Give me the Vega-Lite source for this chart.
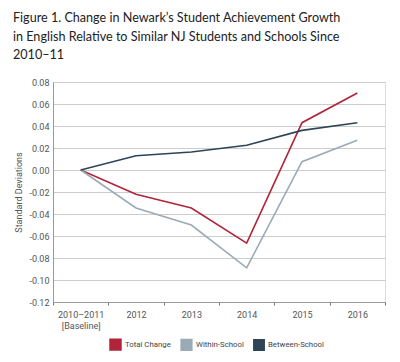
{
  "$schema": "https://vega.github.io/schema/vega-lite/v6.json",
  "width": 332,
  "height": 220,
  "autosize": {"type": "none"},
  "padding": {"left": 53, "top": 82, "right": 15, "bottom": 60},
  "background": "white",
  "title": {
    "text": ["Figure 1. Change in Newark’s Student Achievement Growth", "in English Relative to Similar NJ Students and Schools Since", "2010–11"],
    "anchor": "start",
    "frame": "group",
    "dx": -40,
    "offset": 16,
    "font": "Lato",
    "fontSize": 12.6,
    "fontWeight": "normal",
    "color": "#222222",
    "lineHeight": 18.5
  },
  "data": {
    "values": [
      {"year": "2010–2011|[Baseline]", "series": "Total Change", "value": 0},
      {"year": "2012", "series": "Total Change", "value": -0.022},
      {"year": "2013", "series": "Total Change", "value": -0.0345},
      {"year": "2014", "series": "Total Change", "value": -0.0665},
      {"year": "2015", "series": "Total Change", "value": 0.043},
      {"year": "2016", "series": "Total Change", "value": 0.070},
      {"year": "2010–2011|[Baseline]", "series": "Within-School", "value": 0},
      {"year": "2012", "series": "Within-School", "value": -0.0345},
      {"year": "2013", "series": "Within-School", "value": -0.050},
      {"year": "2014", "series": "Within-School", "value": -0.089},
      {"year": "2015", "series": "Within-School", "value": 0.0075},
      {"year": "2016", "series": "Within-School", "value": 0.027},
      {"year": "2010–2011|[Baseline]", "series": "Between-School", "value": 0},
      {"year": "2012", "series": "Between-School", "value": 0.013},
      {"year": "2013", "series": "Between-School", "value": 0.0163},
      {"year": "2014", "series": "Between-School", "value": 0.0225},
      {"year": "2015", "series": "Between-School", "value": 0.036},
      {"year": "2016", "series": "Between-School", "value": 0.043}
    ]
  },
  "mark": {"type": "line", "strokeWidth": 1.6},
  "encoding": {
    "x": {
      "field": "year",
      "type": "nominal",
      "sort": null,
      "scale": {"type": "band", "paddingInner": 0, "paddingOuter": 0},
      "axis": {
        "title": null,
        "labelAngle": 0,
        "labelExpr": "isValid(datum.value) ? split(datum.value, '|') : ''",
        "labelFont": "Roboto",
        "labelFontSize": 9,
        "labelColor": "#555555",
        "labelPadding": 5,
        "labelLineHeight": 11,
        "tickBand": "extent",
        "tickSize": 3,
        "tickColor": "#777777",
        "domainColor": "#999999",
        "grid": false
      }
    },
    "y": {
      "field": "value",
      "type": "quantitative",
      "scale": {"domain": [-0.12, 0.08], "nice": false},
      "axis": {
        "title": "Standard Deviations",
        "titleFont": "Roboto",
        "titleFontSize": 9,
        "titleFontWeight": "normal",
        "titleColor": "#555555",
        "titlePadding": 5,
        "values": [-0.12, -0.10, -0.08, -0.06, -0.04, -0.02, 0, 0.02, 0.04, 0.06, 0.08],
        "labelExpr": "replace(format(datum.value, '.2f'), '−', '-')",
        "labelFont": "Roboto",
        "labelFontSize": 9,
        "labelColor": "#555555",
        "labelPadding": 4,
        "ticks": false,
        "domainColor": "#999999",
        "gridColor": "#cccccc",
        "gridWidth": 1.2
      }
    },
    "color": {
      "field": "series",
      "type": "nominal",
      "sort": ["Total Change", "Within-School", "Between-School"],
      "scale": {
        "domain": ["Total Change", "Within-School", "Between-School"],
        "range": ["#b1243a", "#9aabb6", "#2d4556"]
      },
      "legend": {
        "title": null,
        "orient": "none",
        "direction": "horizontal",
        "legendX": 56,
        "legendY": 256,
        "symbolType": "square",
        "symbolSize": 110,
        "labelFont": "Roboto",
        "labelFontSize": 7.8,
        "labelColor": "#444444",
        "columnPadding": 6,
        "labelOffset": 3,
        "encode": {
          "symbols": {
            "update": {
              "fill": {"scale": "color", "field": "value"},
              "fillOpacity": {"value": 1},
              "stroke": {"value": "#555555"},
              "strokeWidth": {"value": 0.6}
            }
          }
        }
      }
    },
    "strokeWidth": {
      "field": "series",
      "type": "nominal",
      "scale": {"domain": ["Total Change", "Within-School", "Between-School"], "range": [2, 1.4, 1.4]},
      "legend": null
    }
  }
}
